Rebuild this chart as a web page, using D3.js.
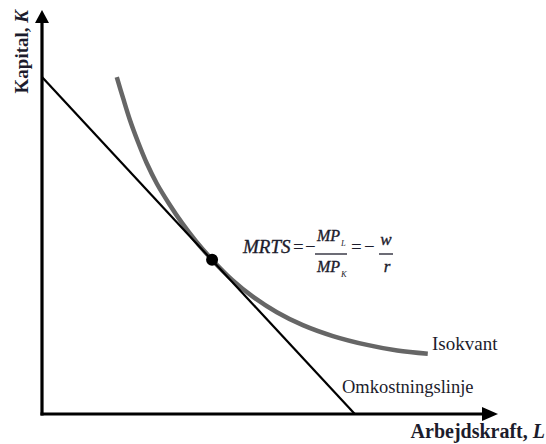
<!DOCTYPE html>
<html>
<head>
<meta charset="utf-8">
<script src="https://cdn.jsdelivr.net/npm/d3@7"></script>
<style>
html,body{margin:0;padding:0;background:#fff;}
svg{display:block;}
text{font-family:"Liberation Serif","Times New Roman",serif;fill:#1c1c2c;}
</style>
</head>
<body>
<svg id="c" width="546" height="444"></svg>
<script>
// Isoquant (L, K)
const isoL = [1.64,1.78,1.93,2.11,2.30,2.52,2.79,3.07,3.38,3.73,4.17,4.63,5.15,5.72,6.38,7.13,7.79,8.46];
const isoK = [8.34,7.81,7.27,6.72,6.20,5.70,5.20,4.73,4.27,3.82,3.32,2.90,2.52,2.20,1.93,1.71,1.57,1.49];
// Budget (isocost) line endpoints
const costL = [0, 6.86];
const costK = [8.34, 0];
// Tangency point
const tangent = {L: 3.73, K: 3.82};
const labels = {iso: "Isokvant", cost: "Omkostningslinje", x: "Arbejdskraft, ", xVar: "L", y: "Kapital, ", yVar: "K"};

const svg = d3.select("#c");
const x = d3.scaleLinear().domain([0, 10]).range([42, 498]);
const y = d3.scaleLinear().domain([0, 10]).range([414, 10]);
const line = d3.line().x(d => x(d[0])).y(d => y(d[1]));

// axes
const x0 = x(0), y0 = y(0);
svg.append("path").attr("d", `M${x0},${y0+1.5} L${x0},${y(10)+12}`).attr("stroke", "#000").attr("stroke-width", 3.2).attr("fill","none");
svg.append("path").attr("d", `M${x0-1.5},${y0} L${x(10)-14},${y0}`).attr("stroke", "#000").attr("stroke-width", 3.2).attr("fill","none");
svg.append("path").attr("d", `M${x0},${y(10)} L${x0-7},${y(10)+13} L${x0+7},${y(10)+13} Z`).attr("fill", "#000");
svg.append("path").attr("d", `M${x(10)},${y0} L${x(10)-16},${y0-7} L${x(10)-16},${y0+7} Z`).attr("fill", "#000");

// isoquant
svg.append("path")
  .datum(isoL.map((l, i) => [l, isoK[i]]))
  .attr("d", line.curve(d3.curveCatmullRom))
  .attr("fill", "none").attr("stroke", "#666").attr("stroke-width", 4.5);

// cost line
svg.append("path")
  .datum(costL.map((l, i) => [l, costK[i]]))
  .attr("d", d3.line().x(d => x(d[0])).y(d => y(d[1])))
  .attr("fill", "none").attr("stroke", "#000").attr("stroke-width", 2.2);

// tangency point
svg.append("circle").attr("cx", x(tangent.L)).attr("cy", y(tangent.K)).attr("r", 6).attr("fill", "#000");

// axis labels
const yl = svg.append("text").attr("transform", "translate(28,10) rotate(-90)")
  .attr("text-anchor", "end").attr("font-size", 19).attr("font-weight", "bold");
yl.append("tspan").text(labels.y);
yl.append("tspan").attr("font-style", "italic").text(labels.yVar);

const xl = svg.append("text").attr("x", 545).attr("y", 438)
  .attr("text-anchor", "end").attr("font-size", 20).attr("font-weight", "bold");
xl.append("tspan").text(labels.x);
xl.append("tspan").attr("font-style", "italic").text(labels.xVar);

svg.append("text").attr("x", 432).attr("y", 350).attr("font-size", 19).text(labels.iso);
svg.append("text").attr("x", 342).attr("y", 393).attr("font-size", 18.5).text(labels.cost);

// formula
const f = svg.append("g").attr("font-size", 17);
const fs = t => t.attr("stroke", "#1c1c2c").attr("stroke-width", 0.35);
fs(f.append("text").attr("x", 243).attr("y", 253).attr("font-size", 19).attr("font-style", "italic").text("MRTS"));
f.append("text").attr("x", 293).attr("y", 253).attr("font-size", 19).text("=");
f.append("text").attr("x", 305).attr("y", 253).attr("font-size", 19).text("\u2212");
f.append("line").attr("x1", 315).attr("x2", 347).attr("y1", 254).attr("y2", 254).attr("stroke", "#1c1c2c").attr("stroke-width", 1.3);
fs(f.append("text").attr("x", 317).attr("y", 241).attr("font-size", 16).attr("font-style", "italic").text("MP"));
f.append("text").attr("x", 341).attr("y", 246).attr("font-style", "italic").attr("font-size", 8.5).text("L");
fs(f.append("text").attr("x", 317).attr("y", 272).attr("font-size", 16).attr("font-style", "italic").text("MP"));
f.append("text").attr("x", 341).attr("y", 277).attr("font-style", "italic").attr("font-size", 8.5).text("K");
f.append("text").attr("x", 351).attr("y", 253).attr("font-size", 19).text("=");
f.append("text").attr("x", 364).attr("y", 253).attr("font-size", 19).text("\u2212");
f.append("line").attr("x1", 379).attr("x2", 393).attr("y1", 254).attr("y2", 254).attr("stroke", "#1c1c2c").attr("stroke-width", 1.3);
fs(f.append("text").attr("x", 386).attr("y", 245).attr("text-anchor", "middle").attr("font-style", "italic").text("w"));
fs(f.append("text").attr("x", 387).attr("y", 272).attr("text-anchor", "middle").attr("font-style", "italic").text("r"));
</script>
</body>
</html>
